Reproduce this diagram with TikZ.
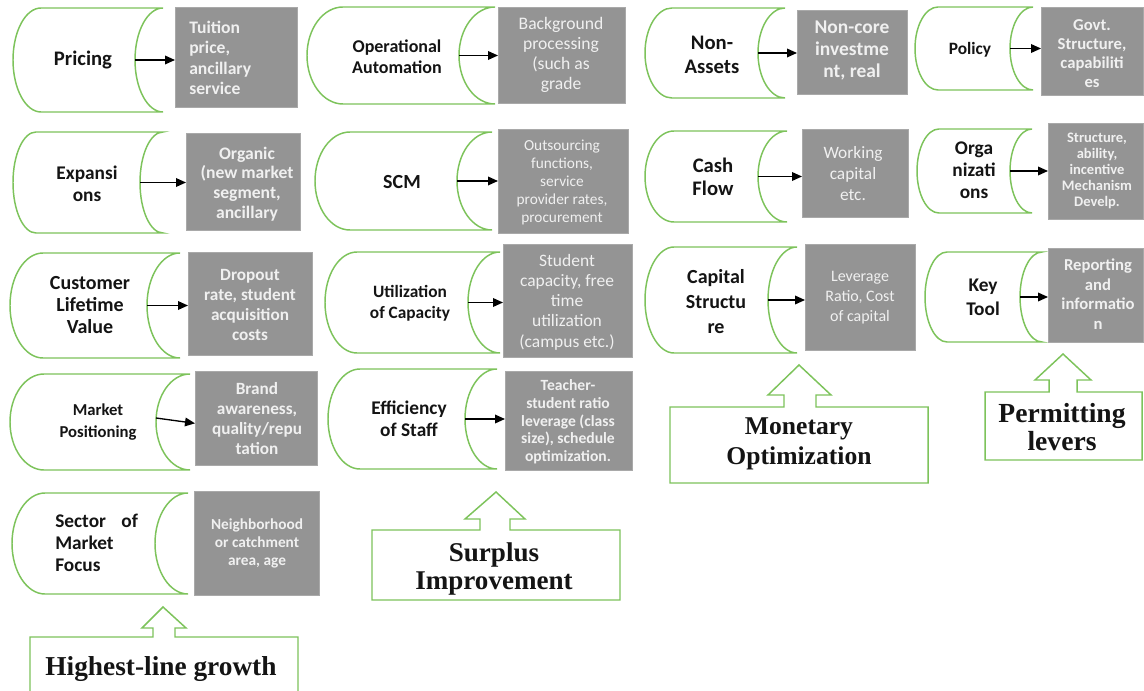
\documentclass[tikz,border=0pt]{standalone}
\usepackage{fontspec}
\setmainfont{Liberation Serif}
\newfontfamily\calfont{Carlito}
\usetikzlibrary{arrows.meta}
\definecolor{cgreen}{HTML}{7DC35B}
\definecolor{cgray}{HTML}{949494}
\definecolor{cgrayedge}{HTML}{A9A9A9}
\definecolor{ctxt}{HTML}{F0F0F0}
\newcommand\fsz[2]{\fontsize{#1}{#2}\selectfont}
% name, xl, xr, top, bottom, depth
\newcommand\cyl[6]{%
  \pgfmathsetmacro\cA{#2+#6}%
  \pgfmathsetmacro\cM{(#4+#5)/2}%
  \pgfmathsetmacro\cH{(#5-#4)/2*0.5523}%
  \pgfmathsetmacro\cK{#6*0.4477}%
  \draw[cylline] (\cA,#4) -- (#3,#4)
     .. controls ({#3-#6*0.5523},#4) and ({#3-#6},{\cM-\cH}) .. ({#3-#6},\cM)
     .. controls ({#3-#6},{\cM+\cH}) and ({#3-#6*0.5523},#5) .. (#3,#5)
     -- (\cA,#5)
     .. controls ({#2+\cK},#5) and (#2,{\cM+\cH}) .. (#2,\cM)
     .. controls (#2,{\cM-\cH}) and ({#2+\cK},#4) .. cycle;
  \coordinate (#1) at ({#3-#6},\cM);}
% name, x1, x2, y1, y2
\newcommand\gbx[5]{\node[gboxst, minimum width={(#3-#2)*0.75pt}, minimum height={(#5-#4)*0.75pt}] (#1) at ({(#2+#3)/2},{(#4+#5)/2}) {};}
\tikzset{
  cylline/.style={draw=cgreen, line width=1.1pt, fill=white},
  gboxst/.style={fill=cgray, draw=cgrayedge, line width=0.6pt, inner sep=0pt, outer sep=0pt},
  lab/.style 2 args={font={\calfont\bfseries\fsz{#1}{#2}}, text=black!92, align=center, inner sep=0pt},
  gtb/.style 2 args={font={\calfont\bfseries\fsz{#1}{#2}}, text=ctxt, align=center, inner sep=0pt},
  gtr/.style 2 args={font={\calfont\fsz{#1}{#2}}, text=ctxt, align=center, inner sep=0pt},
  big/.style 2 args={font={\bfseries\fsz{#1}{#2}}, text=black!92, align=center, inner sep=0pt},
  con/.style={-{Triangle[length=7.5pt,width=6.5pt]}, line width=1pt, black},
  blk/.style={draw=cgreen, line width=1.1pt, fill=white, line join=miter},
}
\begin{document}
\begin{tikzpicture}[x=0.75pt,y=-0.75pt]
\fill[white] (0,0) rectangle (1144,691);
\useasboundingbox (0,0) rectangle (1144,691);
% cylinders
\cyl{c1}{13}{163}{8}{112}{28}
\cyl{c2}{13}{163}{132}{233}{23}
\cyl{c3}{10}{180}{253}{358}{33}
\cyl{c4}{10}{190}{374}{470}{34}
\cyl{c5}{12}{188}{493}{594}{33}
\cyl{c6}{307}{495}{7}{104}{36}
\cyl{c7}{315}{492}{132}{230}{35}
\cyl{c8}{325}{500}{252}{353}{32}
\cyl{c9}{328}{497}{369}{469}{32}
\cyl{c10}{645}{785}{8}{98}{27}
\cyl{c11}{915}{1033}{7}{90}{23}
\cyl{c12}{645}{787}{131}{222}{29}
\cyl{c13}{917}{1032}{129}{213}{22}
\cyl{c14}{645}{797}{247}{353}{29}
\cyl{c15}{925}{1042}{252}{342}{22}
% gray boxes
\gbx{g1}{175}{297}{7}{107}
\gbx{g2}{186}{300}{133}{230}
\gbx{g3}{188}{312}{252}{355}
\gbx{g4}{195}{317}{371}{465}
\gbx{g5}{194}{319}{491}{595}
\gbx{g6}{498}{625}{7}{103}
\gbx{g7}{498}{628}{129}{233}
\gbx{g8}{503}{632}{244}{357}
\gbx{g9}{505}{632}{371}{470}
\gbx{g10}{797}{907}{10}{94}
\gbx{g11}{1041}{1143}{7}{95}
\gbx{g12}{802}{908}{129}{217}
\gbx{g13}{1048}{1143}{123}{219}
\gbx{g14}{805}{915}{244}{350}
\gbx{g15}{1048}{1143}{248}{342}
% cylinder labels
\node[lab={15.5}{16.5}] (n1) at (83,60) {Pricing};
\node[lab={14.5}{16.5}] (n2) at (87,184) {Expansi\\ons};
\node[lab={15}{16.5}] (n3) at (90,305) {Customer\\Lifetime\\Value};
\node[lab={12.5}{16}] (n4) at (98,422) {Market\\Positioning};
\node[lab={14.5}{16.5}, align=left, anchor=west] (n5) at (55,543) {\makebox[62pt][s]{Sector of}\\Market\\Focus};
\node[lab={13.5}{16}] (n6) at (397,57) {Operational\\Automation};
\node[lab={15}{16.5}] (n7) at (402,182) {SCM};
\node[lab={13}{15.5}] (n8) at (410,303) {Utilization\\of Capacity};
\node[lab={14.5}{16.5}] (n9) at (409,419) {Efficiency\\of Staff};
\node[lab={15.5}{18}] (n10) at (712,55) {Non-\\Assets};
\node[lab={13}{15}] (n11) at (970,50) {Policy};
\node[lab={15.5}{17.5}] (n12) at (713,177) {Cash\\Flow};
\node[lab={14.5}{16.5}] (n13) at (974,170) {Orga\\nizati\\ons};
\node[lab={15}{18.75}] (n14) at (716,302) {Capital\\Structu\\re};
\node[lab={14.5}{18}] (n15) at (983,297) {Key\\Tool};
% gray box texts
\node[gtb={13.2}{15.4}, align=left, anchor=west] (t1) at (189,58) {Tuition\\price,\\ancillary\\service};
\node[gtb={13.2}{14.8}] (t2) at (247,184) {Organic\\(new market\\segment,\\ancillary};
\node[gtb={12.9}{15}] (t3) at (250,305) {Dropout\\rate, student\\acquisition\\costs};
\node[gtb={12.9}{15}] (t4) at (257,419) {Brand\\awareness,\\quality/repu\\tation};
\node[gtb={11.5}{13.5}] (t5) at (257,543) {Neighborhood\\or catchment\\area, age};
\node[gtr={13.2}{15}] (t6) at (561,55) {Background\\processing\\(such as\\grade};
\node[gtr={11.5}{13.5}] (t7) at (562,182) {Outsourcing\\functions,\\service\\provider rates,\\procurement};
\node[gtr={13.1}{15.2}] (t8) at (567,302) {Student\\capacity, free\\time\\utilization\\(campus etc.)};
\node[gtb={11.7}{13.3}] (t9) at (568,422) {Teacher-\\student ratio\\leverage (class\\size), schedule\\optimization.};
\node[gtb={14.6}{16.5}] (t10) at (852,51) {Non-core\\investme\\nt, real};
\node[gtb={12.5}{14.3}] (t11) at (1092,54) {Govt.\\Structure,\\capabiliti\\es};
\node[gtr={13}{15.75}] (t12) at (853,174) {Working\\capital\\etc.};
\node[gtb={10.9}{12}] (t13) at (1097,171) {Structure,\\ability,\\incentive\\Mechanism\\Develp.};
\node[gtr={12}{15}] (t14) at (860,298) {Leverage\\Ratio, Cost\\of capital};
\node[gtb={12.5}{14.6}] (t15) at (1098,294) {Reporting\\and\\informatio\\n};
% connectors
\foreach \i in {1,2,3,6,7,8,9,10,11,12,13,14,15}{
  \draw[con] (c\i) -- (c\i -| g\i.west);
}
\coordinate (c4s) at ([yshift=3pt]c4);
\draw[con] (c4s) -- ([yshift=-1pt]c4 -| g4.west);
% block arrows
\draw[blk] (30,692) -- (30,637) -- (153,637) -- (153,628) -- (142,628) -- (163,607) -- (186,628) -- (175,628) -- (175,637) -- (298,637) -- (298,692);
\draw[blk] (372,530) -- (480,530) -- (480,519) -- (465,519) -- (496,492) -- (525,519) -- (510,519) -- (510,530) -- (620,530) -- (620,600) -- (372,600) -- cycle;
\draw[blk] (670,407) -- (784,407) -- (784,395) -- (768,395) -- (799,365) -- (831,395) -- (816,395) -- (816,407) -- (928,407) -- (928,483) -- (670,483) -- cycle;
\draw[blk] (985,392) -- (1049,392) -- (1049,380) -- (1035,380) -- (1063,354) -- (1091,380) -- (1077,380) -- (1077,392) -- (1142,392) -- (1142,460) -- (985,460) -- cycle;
% bottom labels
\node[big={20.5}{24}, anchor=base] (b1) at (161,675) {Highest-line growth};
\node[big={20.3}{21}] (b2) at (494,569) {Surplus\\Improvement};
\node[big={19.2}{22.5}] (b3) at (799,444) {Monetary\\Optimization};
\node[big={20.7}{20.5}] (b4) at (1062,427) {Permitting\\levers};
\end{tikzpicture}
\end{document}
